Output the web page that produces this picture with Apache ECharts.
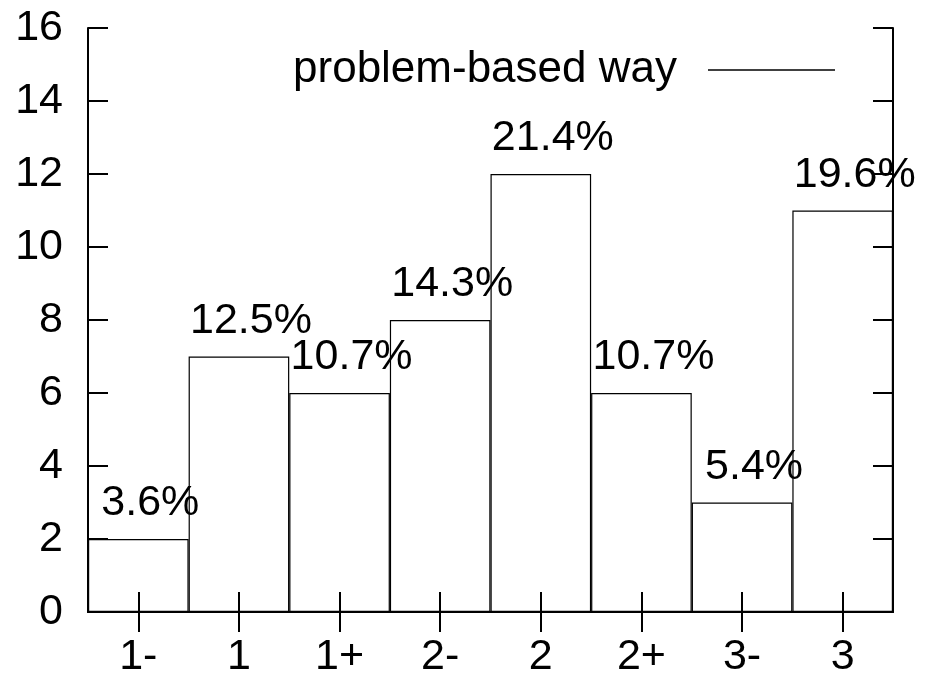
<!DOCTYPE html>
<html>
<head>
<meta charset="utf-8">
<script src="https://cdn.jsdelivr.net/npm/echarts@6/dist/echarts.min.js"></script>
<style>
html,body{margin:0;padding:0;background:#fff;}
#chart{width:925px;height:682px;}
</style>
</head>
<body>
<div id="chart"></div>
<script>
const categories = ['1-', '1', '1+', '2-', '2', '2+', '3-', '3'];
const counts = [2, 7, 6, 8, 12, 6, 3, 11];
const percentLabels = ['3.6%', '12.5%', '10.7%', '14.3%', '21.4%', '10.7%', '5.4%', '19.6%'];
const seriesName = 'problem-based way';
const yMin = 0, yMax = 16, yStep = 2;

const FONT = "'Liberation Sans', Arial, Helvetica, sans-serif";
const chart = echarts.init(document.getElementById('chart'), null, {renderer: 'canvas'});

const axisLine = {show: true, lineStyle: {color: '#000', width: 2}};
const axisTick = {show: true, inside: true, length: 20, lineStyle: {color: '#000', width: 2}};

chart.setOption({
  animation: false,
  backgroundColor: '#fff',
  grid: {left: 88, right: 32, top: 28, bottom: 70, containLabel: false},
  legend: {
    data: [seriesName],
    right: 85,
    top: 43,
    align: 'right',
    icon: 'rect',
    itemWidth: 127,
    itemHeight: 1.5,
    itemStyle: {color: '#000', borderWidth: 0},
    textStyle: {fontFamily: FONT, fontSize: 44, color: '#000', padding: [0, 26, 0, 0]}
  },
  xAxis: [{
    type: 'category',
    data: categories,
    position: 'bottom',
    axisLine: axisLine,
    axisTick: Object.assign({alignWithLabel: true}, axisTick),
    axisLabel: {fontFamily: FONT, fontSize: 43, color: '#000', margin: 24, interval: 0},
    splitLine: {show: false}
  }, {
    type: 'category',
    data: categories,
    position: 'top',
    axisLine: axisLine,
    axisTick: Object.assign({alignWithLabel: true}, axisTick),
    axisLabel: {show: false},
    splitLine: {show: false}
  }],
  yAxis: [{
    type: 'value',
    min: yMin, max: yMax, interval: yStep,
    position: 'left',
    axisLine: axisLine,
    axisTick: axisTick,
    axisLabel: {fontFamily: FONT, fontSize: 43, color: '#000', margin: 25},
    splitLine: {show: false}
  }, {
    type: 'value',
    min: yMin, max: yMax, interval: yStep,
    position: 'right',
    axisLine: axisLine,
    axisTick: axisTick,
    axisLabel: {show: false},
    splitLine: {show: false}
  }],
  series: [{
    name: seriesName,
    type: 'bar',
    data: counts,
    barWidth: '100%',
    barCategoryGap: '0%',
    itemStyle: {color: 'rgba(255,255,255,0)', borderColor: '#000', borderWidth: 1.2},
    emphasis: {disabled: true},
    label: {
      show: true,
      position: 'top',
      distance: 14,
      offset: [12, 0],
      fontFamily: FONT,
      fontSize: 43,
      lineHeight: 43,
      color: '#000',
      formatter: p => percentLabels[p.dataIndex]
    }
  }]
});
</script>
</body>
</html>
